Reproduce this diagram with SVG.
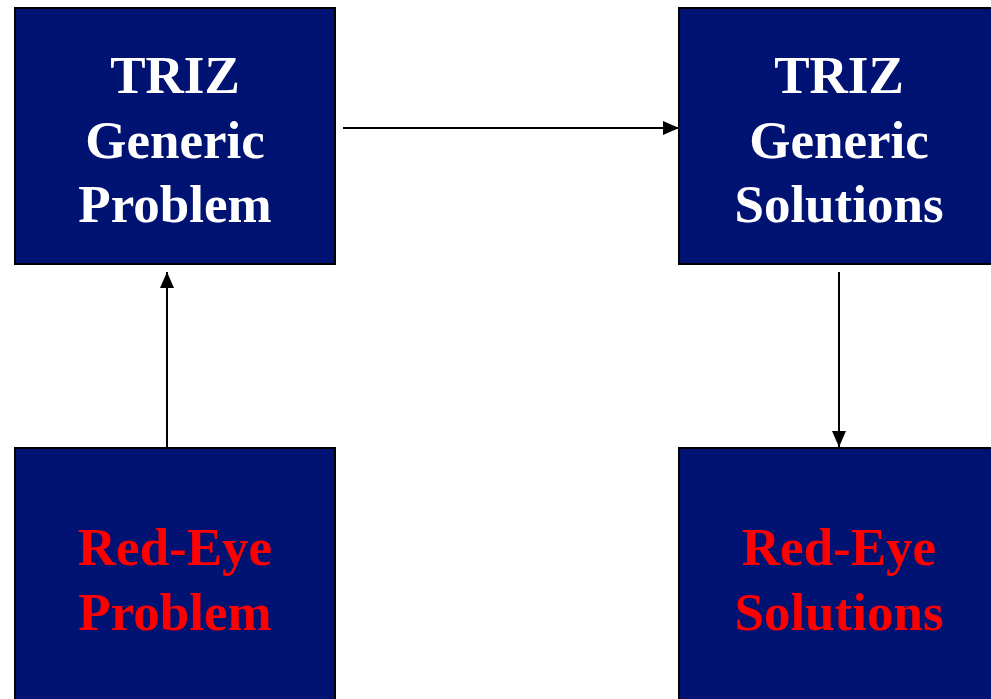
<svg xmlns="http://www.w3.org/2000/svg" width="991" height="699" viewBox="0 0 991 699">
  <style>
    .box { fill: #001272; stroke: #000000; stroke-width: 2; }
    .label { font-family: "Liberation Serif", "Times New Roman", serif; font-weight: bold; font-size: 53px; text-anchor: middle; }
    .white { fill: #ffffff; }
    .red { fill: #ff0000; }
    .link { stroke: #000000; stroke-width: 2; fill: none; marker-end: url(#arrow); }
  </style>
  <defs>
    <marker id="arrow" markerUnits="userSpaceOnUse" markerWidth="16" markerHeight="14" refX="16" refY="7" orient="auto">
      <path d="M0,0 L16,7 L0,14 Z" fill="#000000"/>
    </marker>
  </defs>
  <rect width="991" height="699" fill="#ffffff"/>

  <g id="triz-generic-problem">
    <rect class="box" x="15" y="8" width="320" height="256"/>
    <text class="label white" x="175" y="93">TRIZ</text>
    <text class="label white" x="175" y="157.5">Generic</text>
    <text class="label white" x="175" y="222">Problem</text>
  </g>

  <g id="triz-generic-solutions">
    <rect class="box" x="679" y="8" width="320" height="256"/>
    <text class="label white" x="839" y="93">TRIZ</text>
    <text class="label white" x="839" y="157.5">Generic</text>
    <text class="label white" x="839" y="222">Solutions</text>
  </g>

  <g id="red-eye-problem">
    <rect class="box" x="15" y="448" width="320" height="256"/>
    <text class="label red" x="175" y="565">Red-Eye</text>
    <text class="label red" x="175" y="630">Problem</text>
  </g>

  <g id="red-eye-solutions">
    <rect class="box" x="679" y="448" width="320" height="256"/>
    <text class="label red" x="839" y="565">Red-Eye</text>
    <text class="label red" x="839" y="630">Solutions</text>
  </g>

  <g id="connectors">
    <line class="link" x1="343" y1="128" x2="679" y2="128"/>
    <line class="link" x1="167" y1="447" x2="167" y2="272"/>
    <line class="link" x1="839" y1="272" x2="839" y2="447"/>
  </g>
</svg>
